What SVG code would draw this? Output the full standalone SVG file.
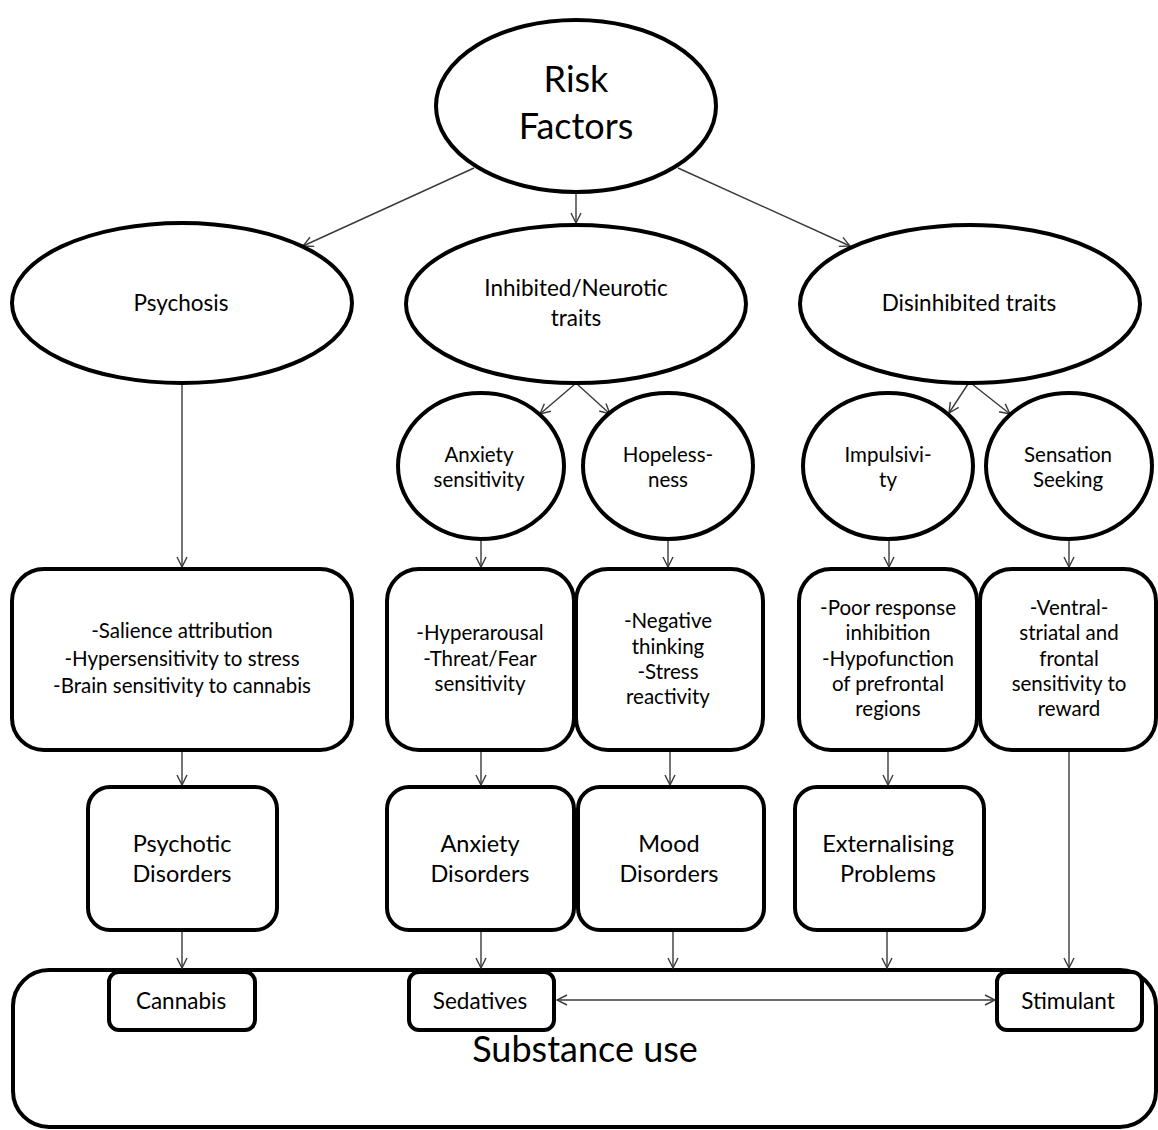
<svg xmlns="http://www.w3.org/2000/svg" width="1158" height="1130" viewBox="0 0 1158 1130">
  <style>
    .shape { fill: #ffffff; stroke: #000000; stroke-width: 4; }
    .link { fill: none; stroke: #3a3a3a; stroke-width: 1.4; }
    text { font-family: Lato, "Open Sans", "Liberation Sans", sans-serif; fill: #000000; text-anchor: middle; dominant-baseline: central; }
    .t-xl { font-size: 36px; }
    .t-l { font-size: 23.5px; }
    .t-m { font-size: 22.5px; }
    .t-s { font-size: 20.5px; }
  </style>
  <defs>
    <marker id="open-arrow" viewBox="0 0 12 12" refX="11" refY="6" markerWidth="12" markerHeight="12" markerUnits="userSpaceOnUse" orient="auto-start-reverse">
      <path d="M1,1 L11,6 L1,11" fill="none" stroke="#3a3a3a" stroke-width="1.4"/>
    </marker>
  </defs>

  <!-- Substance use container (drawn first, sits underneath the drug boxes) -->
  <g id="substance-use">
    <rect class="shape" x="13" y="970" width="1143" height="157" rx="36"/>
    <text class="t-xl" x="585" y="1048">Substance use</text>
  </g>

  <g id="connectors">
    <line class="link" x1="474" y1="168" x2="303" y2="246" marker-end="url(#open-arrow)"/>
    <line class="link" x1="576" y1="193" x2="576" y2="223" marker-end="url(#open-arrow)"/>
    <line class="link" x1="678" y1="168" x2="850" y2="246" marker-end="url(#open-arrow)"/>
    <line class="link" x1="182" y1="384" x2="182" y2="567" marker-end="url(#open-arrow)"/>
    <line class="link" x1="575" y1="384" x2="540" y2="414" marker-end="url(#open-arrow)"/>
    <line class="link" x1="577" y1="384" x2="610" y2="414" marker-end="url(#open-arrow)"/>
    <line class="link" x1="968" y1="384" x2="949" y2="413" marker-end="url(#open-arrow)"/>
    <line class="link" x1="972" y1="384" x2="1010" y2="414" marker-end="url(#open-arrow)"/>
    <line class="link" x1="481" y1="540" x2="481" y2="567" marker-end="url(#open-arrow)"/>
    <line class="link" x1="668" y1="540" x2="668" y2="567" marker-end="url(#open-arrow)"/>
    <line class="link" x1="889" y1="540" x2="889" y2="567" marker-end="url(#open-arrow)"/>
    <line class="link" x1="1069" y1="540" x2="1069" y2="567" marker-end="url(#open-arrow)"/>
    <line class="link" x1="182" y1="751" x2="182" y2="785" marker-end="url(#open-arrow)"/>
    <line class="link" x1="481" y1="751" x2="481" y2="785" marker-end="url(#open-arrow)"/>
    <line class="link" x1="670" y1="751" x2="670" y2="785" marker-end="url(#open-arrow)"/>
    <line class="link" x1="888" y1="751" x2="888" y2="785" marker-end="url(#open-arrow)"/>
    <line class="link" x1="1069" y1="751" x2="1069" y2="968" marker-end="url(#open-arrow)"/>
    <line class="link" x1="182" y1="931" x2="182" y2="968" marker-end="url(#open-arrow)"/>
    <line class="link" x1="481" y1="931" x2="481" y2="968" marker-end="url(#open-arrow)"/>
    <line class="link" x1="673" y1="931" x2="673" y2="968" marker-end="url(#open-arrow)"/>
    <line class="link" x1="887" y1="931" x2="887" y2="968" marker-end="url(#open-arrow)"/>
    <line class="link" x1="557" y1="1000" x2="995" y2="1000" marker-start="url(#open-arrow)" marker-end="url(#open-arrow)"/>
  </g>

  <g id="risk-factors">
    <ellipse class="shape" cx="576" cy="106" rx="140" ry="86"/>
    <text class="t-xl" x="576" y="78">Risk</text>
    <text class="t-xl" x="576" y="125">Factors</text>
  </g>

  <g id="psychosis">
    <ellipse class="shape" cx="182" cy="303" rx="170" ry="80"/>
    <text class="t-m" x="181" y="302">Psychosis</text>
  </g>
  <g id="inhibited-traits">
    <ellipse class="shape" cx="576" cy="304" rx="170" ry="79"/>
    <text class="t-m" x="576" y="287">Inhibited/Neurotic</text>
    <text class="t-m" x="576" y="317">traits</text>
  </g>
  <g id="disinhibited-traits">
    <ellipse class="shape" cx="970" cy="304" rx="170" ry="79"/>
    <text class="t-m" x="969" y="302">Disinhibited traits</text>
  </g>

  <g id="anxiety-sensitivity">
    <ellipse class="shape" cx="481" cy="466" rx="83" ry="73"/>
    <text class="t-s" x="479" y="454">Anxiety</text>
    <text class="t-s" x="479" y="479">sensitivity</text>
  </g>
  <g id="hopelessness">
    <ellipse class="shape" cx="668" cy="466" rx="85" ry="73"/>
    <text class="t-s" x="668" y="454">Hopeless-</text>
    <text class="t-s" x="668" y="479">ness</text>
  </g>
  <g id="impulsivity">
    <ellipse class="shape" cx="888" cy="466" rx="85" ry="73"/>
    <text class="t-s" x="888" y="454">Impulsivi-</text>
    <text class="t-s" x="888" y="479">ty</text>
  </g>
  <g id="sensation-seeking">
    <ellipse class="shape" cx="1069" cy="466" rx="83" ry="73"/>
    <text class="t-s" x="1068" y="454">Sensation</text>
    <text class="t-s" x="1068" y="479">Seeking</text>
  </g>

  <g id="psychosis-mechanisms">
    <rect class="shape" x="12" y="569" width="340" height="181" rx="32"/>
    <text class="t-s" x="182" y="630">-Salience attribution</text>
    <text class="t-s" x="182" y="658">-Hypersensitivity to stress</text>
    <text class="t-s" x="182" y="685">-Brain sensitivity to cannabis</text>
  </g>
  <g id="anxiety-mechanisms">
    <rect class="shape" x="387" y="569" width="187" height="181" rx="32"/>
    <text class="t-s" x="480" y="632">-Hyperarousal</text>
    <text class="t-s" x="480" y="658">-Threat/Fear</text>
    <text class="t-s" x="480" y="683">sensitivity</text>
  </g>
  <g id="hopelessness-mechanisms">
    <rect class="shape" x="576" y="569" width="187" height="181" rx="32"/>
    <text class="t-s" x="668" y="620">-Negative</text>
    <text class="t-s" x="668" y="646">thinking</text>
    <text class="t-s" x="668" y="671">-Stress</text>
    <text class="t-s" x="668" y="696">reactivity</text>
  </g>
  <g id="impulsivity-mechanisms">
    <rect class="shape" x="799" y="569" width="178" height="181" rx="32"/>
    <text class="t-s" x="888" y="607">-Poor response</text>
    <text class="t-s" x="888" y="632">inhibition</text>
    <text class="t-s" x="888" y="658">-Hypofunction</text>
    <text class="t-s" x="888" y="683">of prefrontal</text>
    <text class="t-s" x="888" y="708">regions</text>
  </g>
  <g id="sensation-mechanisms">
    <rect class="shape" x="980" y="569" width="176" height="181" rx="32"/>
    <text class="t-s" x="1069" y="607">-Ventral-</text>
    <text class="t-s" x="1069" y="632">striatal and</text>
    <text class="t-s" x="1069" y="658">frontal</text>
    <text class="t-s" x="1069" y="683">sensitivity to</text>
    <text class="t-s" x="1069" y="708">reward</text>
  </g>

  <g id="psychotic-disorders">
    <rect class="shape" x="88" y="787" width="189" height="143" rx="22"/>
    <text class="t-l" x="182" y="843">Psychotic</text>
    <text class="t-l" x="182" y="873">Disorders</text>
  </g>
  <g id="anxiety-disorders">
    <rect class="shape" x="387" y="787" width="187" height="143" rx="22"/>
    <text class="t-l" x="480" y="843">Anxiety</text>
    <text class="t-l" x="480" y="873">Disorders</text>
  </g>
  <g id="mood-disorders">
    <rect class="shape" x="578" y="787" width="186" height="143" rx="22"/>
    <text class="t-l" x="669" y="843">Mood</text>
    <text class="t-l" x="669" y="873">Disorders</text>
  </g>
  <g id="externalising-problems">
    <rect class="shape" x="795" y="787" width="189" height="143" rx="22"/>
    <text class="t-l" x="888" y="843">Externalising</text>
    <text class="t-l" x="888" y="873">Problems</text>
  </g>

  <g id="cannabis">
    <rect class="shape" x="109" y="972" width="146" height="58" rx="10"/>
    <text class="t-m" x="181" y="1000">Cannabis</text>
  </g>
  <g id="sedatives">
    <rect class="shape" x="409" y="972" width="145" height="58" rx="10"/>
    <text class="t-m" x="480" y="1000">Sedatives</text>
  </g>
  <g id="stimulant">
    <rect class="shape" x="997" y="972" width="145" height="58" rx="10"/>
    <text class="t-m" x="1068" y="1000">Stimulant</text>
  </g>
</svg>
